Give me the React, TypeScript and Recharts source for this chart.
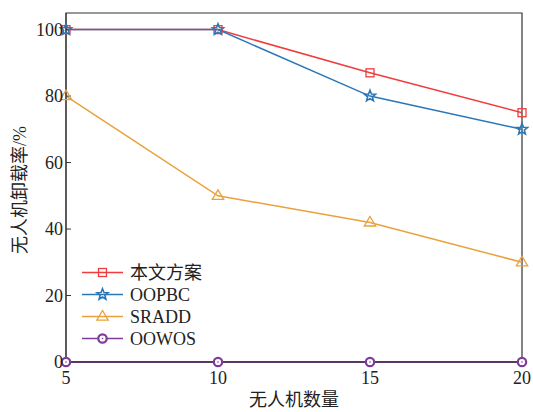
import { LineChart, Line, XAxis, YAxis, ReferenceArea } from 'recharts'

const uavCounts = [5, 10, 15, 20]
const ours = [100, 100, 87, 75]
const oopbc = [100, 100, 80, 70]
const sradd = [80, 50, 42, 30]
const oowos = [0, 0, 0, 0]
const yTicks = [0, 20, 40, 60, 80, 100]

const data = uavCounts.map((n, i) => ({
  n,
  ours: ours[i],
  oopbc: oopbc[i],
  sradd: sradd[i],
  oowos: oowos[i],
}))

const serif = '"Liberation Serif", "Times New Roman", "Noto Sans CJK SC", serif'

const RED = '#f03c3c'
const BLUE = '#2a77b8'
const ORANGE = '#e9a23b'
const PURPLE = '#7d3c98'

type MarkerKind = 'square' | 'star' | 'triangle' | 'circle'

function Marker({ kind, cx, cy, color }: { kind: MarkerKind; cx: number; cy: number; color: string }) {
  if (kind === 'square') {
    return <rect x={cx - 4} y={cy - 4} width={8} height={8} fill="none" stroke={color} strokeWidth={1.3} />
  }
  if (kind === 'triangle') {
    const r = 6
    const pts = `${cx},${cy - r} ${cx - r * 0.95},${cy + r * 0.6} ${cx + r * 0.95},${cy + r * 0.6}`
    return <polygon points={pts} fill="none" stroke={color} strokeWidth={1.3} />
  }
  if (kind === 'star') {
    const outer = 5.8
    const inner = 2.5
    const pts: string[] = []
    for (let k = 0; k < 10; k++) {
      const r = k % 2 === 0 ? outer : inner
      const a = -Math.PI / 2 + (k * Math.PI) / 5
      pts.push(`${cx + r * Math.cos(a)},${cy + r * Math.sin(a)}`)
    }
    return <polygon points={pts.join(' ')} fill="none" stroke={color} strokeWidth={1.6} />
  }
  return (
    <g>
      <circle cx={cx} cy={cy} r={4.2} fill="#fff" stroke={color} strokeWidth={2.2} />
      <circle cx={cx} cy={cy} r={0.8} fill={color} />
    </g>
  )
}

const dot = (kind: MarkerKind, color: string) => (props: any) => {
  const { cx, cy, index } = props
  if (cx == null || cy == null) return <g key={index} />
  return <Marker key={index} kind={kind} cx={cx} cy={cy} color={color} />
}

const legendItems: { name: string; kind: MarkerKind; color: string }[] = [
  { name: '本文方案', kind: 'square', color: RED },
  { name: 'OOPBC', kind: 'star', color: BLUE },
  { name: 'SRADD', kind: 'triangle', color: ORANGE },
  { name: 'OOWOS', kind: 'circle', color: PURPLE },
]

// legend sits inside the plot, lower left, drawn as its own svg
function LegendBox() {
  return (
    <svg width={140} height={95} style={{ position: 'absolute', left: 80, top: 260 }}>
      {legendItems.map((it, i) => {
        const y = 12.5 + i * 22
        return (
          <g key={it.name}>
            <line x1={2} x2={43} y1={y} y2={y} stroke={it.color} strokeWidth={1.5} />
            <Marker kind={it.kind} cx={22.5} cy={y} color={it.color} />
            <text x={50} y={y + 6} fontSize={18} fontFamily={serif} fill="#222">
              {it.name}
            </text>
          </g>
        )
      })}
    </svg>
  )
}

export default function App() {
  return (
    <div style={{ position: 'absolute', left: 0, top: 0, width: 533, height: 412, background: '#fff' }}>
      <LineChart width={533} height={412} data={data} margin={{ top: 13, right: 11, bottom: 20, left: 0 }}>
        <XAxis
          dataKey="n"
          type="number"
          domain={[5, 20]}
          ticks={uavCounts}
          height={30}
          stroke="#333"
          tickSize={-5}
          tickMargin={14}
          tick={{ fill: '#222', fontSize: 18, fontFamily: serif }}
          label={{
            content: () => (
              <text x={294} y={406} textAnchor="middle" fontSize={18} fontFamily={serif} fill="#222">
                无人机数量
              </text>
            ),
          }}
        />
        <YAxis
          type="number"
          domain={[0, 105]}
          ticks={yTicks}
          width={66}
          stroke="#333"
          tickSize={-5}
          tickMargin={8}
          tick={{ fill: '#222', fontSize: 18, fontFamily: serif }}
          label={{
            content: () => (
              <text
                x={22}
                y={190}
                textAnchor="middle"
                fontSize={18}
                fontFamily={serif}
                fill="#222"
                transform="rotate(-90 22 190)"
                dominantBaseline="middle"
              >
                无人机卸载率/%
              </text>
            ),
          }}
        />
        <ReferenceArea x1={5} x2={20} y1={0} y2={105} fill="none" stroke="#333" strokeWidth={1.2} />
        <Line dataKey="ours" stroke={RED} strokeWidth={1.5} dot={dot('square', RED)} isAnimationActive={false} />
        <Line dataKey="oopbc" stroke={BLUE} strokeWidth={1.5} dot={dot('star', BLUE)} isAnimationActive={false} />
        <Line dataKey="sradd" stroke={ORANGE} strokeWidth={1.5} dot={dot('triangle', ORANGE)} isAnimationActive={false} />
        <Line dataKey="oowos" stroke={PURPLE} strokeWidth={2} dot={dot('circle', PURPLE)} isAnimationActive={false} />
      </LineChart>
      <LegendBox />
    </div>
  )
}
